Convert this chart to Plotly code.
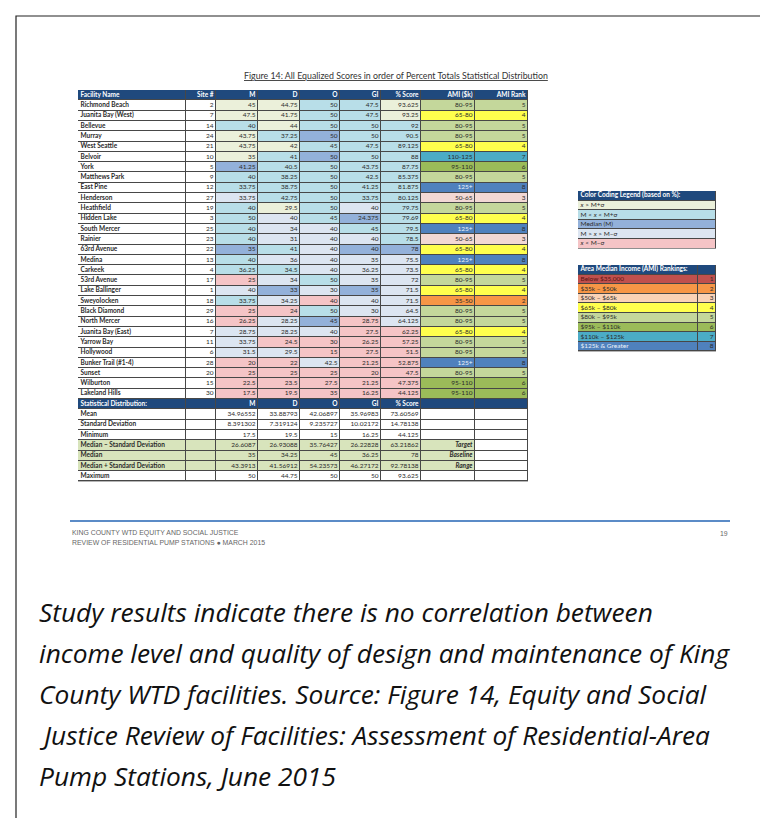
import plotly.graph_objects as go

# ---------------- DATA ----------------
facility = ["Richmond Beach", "Juanita Bay (West)", "Bellevue", "Murray", "West Seattle", "Belvoir",
            "York", "Matthews Park", "East Pine", "Henderson", "Heathfield", "Hidden Lake",
            "South Mercer", "Rainier", "63rd Avenue", "Medina", "Carkeek", "53rd Avenue",
            "Lake Ballinger", "Sweyolocken", "Black Diamond", "North Mercer", "Juanita Bay (East)",
            "Yarrow Bay", "Hollywood", "Bunker Trail (#1-4)", "Sunset", "Wilburton", "Lakeland Hills"]
site = [2, 7, 14, 24, 21, 10, 5, 9, 12, 27, 19, 3, 25, 23, 22, 13, 4, 17, 1, 18, 29, 16, 7, 11, 6, 28, 20, 15, 30]
m_score = [45, 47.5, 40, 43.75, 43.75, 35, 41.25, 40, 33.75, 33.75, 40, 50, 40, 40, 35, 40, 36.25, 25, 40,
           33.75, 25, 26.25, 28.75, 33.75, 31.5, 20, 25, 22.5, 17.5]
d_score = [44.75, 41.75, 44, 37.25, 42, 41, 40.5, 38.25, 38.75, 42.75, 29.5, 40, 34, 31, 41, 36, 34.5, 34, 33,
           34.25, 24, 28.25, 28.25, 24.5, 29.5, 22, 25, 23.5, 19.5]
o_score = [50, 50, 50, 50, 45, 50, 50, 50, 50, 50, 50, 45, 40, 40, 40, 40, 40, 50, 30, 40, 50, 45, 40, 30, 15,
           42.5, 25, 27.5, 35]
gi_score = [47.5, 47.5, 50, 50, 47.5, 50, 43.75, 42.5, 41.25, 33.75, 40, 24.375, 45, 40, 40, 35, 36.25, 35, 35,
            40, 30, 28.75, 27.5, 26.25, 27.5, 21.25, 20, 21.25, 16.25]
pct_score = [93.625, 93.25, 92, 90.5, 89.125, 88, 87.75, 85.375, 81.875, 80.125, 79.75, 79.69, 79.5, 78.5, 78,
             75.5, 73.5, 72, 71.5, 71.5, 64.5, 64.125, 62.25, 57.25, 51.5, 52.875, 47.5, 47.375, 44.125]
ami_range = ["80-95", "65-80", "80-95", "80-95", "65-80", "110-125", "95-110", "80-95", "125+", "50-65",
             "80-95", "65-80", "125+", "50-65", "65-80", "125+", "65-80", "80-95", "65-80", "35-50",
             "80-95", "80-95", "65-80", "80-95", "80-95", "125+", "80-95", "95-110", "95-110"]
ami_rank = [5, 4, 5, 5, 4, 7, 6, 5, 8, 3, 5, 4, 8, 3, 4, 8, 4, 5, 4, 2, 5, 5, 4, 5, 5, 8, 5, 6, 6]

column_names = ["Facility Name", "Site #", "M", "D", "O", "GI", "% Score", "AMI ($k)", "AMI Rank"]
stat_header = ["Statistical Distribution:", "", "M", "D", "O", "GI", "% Score", "", ""]
stat_labels = ["Mean", "Standard Deviation", "Minimum", "Median \u2013 Standard Deviation", "Median",
               "Median + Standard Deviation", "Maximum"]
stat_m = [34.96552, 8.391302, 17.5, 26.6087, 35, 43.3913, 50]
stat_d = [33.88793, 7.319124, 19.5, 26.93088, 34.25, 41.56912, 44.75]
stat_o = [42.06897, 9.235727, 15, 35.76427, 45, 54.23573, 50]
stat_gi = [35.96983, 10.02172, 16.25, 26.22828, 36.25, 46.27172, 50]
stat_pct = [73.60569, 14.78138, 44.125, 63.21862, 78, 92.78138, 93.625]
stat_note = ["", "", "", "Target", "Baseline", "Range", ""]

title_text = "Figure 14: All Equalized Scores in order of Percent Totals Statistical Distribution"
color_legend_title = "Color Coding Legend (based on %):"
color_legend_labels = ["<i>x</i> > M+\u03c3", "M < <i>x</i> < M+\u03c3", "Median (M)",
                       "M > <i>x</i> > M\u2212\u03c3", "<i>x</i> < M\u2212\u03c3"]
ami_legend_title = "Area Median Income (AMI) Rankings:"
ami_legend_labels = ["Below $35,000", "$35k \u2013 $50k", "$50k \u2013 $65k", "$65k \u2013 $80k",
                     "$80k \u2013 $95k", "$95k \u2013 $110k", "$110k \u2013 $125k", "$125k & Greater"]
ami_legend_ranks = [1, 2, 3, 4, 5, 6, 7, 8]
footer_lines = ["KING COUNTY WTD EQUITY AND SOCIAL JUSTICE",
                "REVIEW OF RESIDENTIAL PUMP STATIONS \u25cf MARCH 2015"]
page_number = "19"
caption_lines = ["Study results indicate there is no correlation between",
                 "income level and quality of design and maintenance of King",
                 "County WTD facilities. Source: Figure 14, Equity and Social",
                 "Justice Review of Facilities: Assessment of Residential-Area",
                 "Pump Stations, June 2015"]

# ---------------- STYLE ----------------
W, H = 768, 818
def fx(x): return x / W
def fy(y): return 1 - y / H

SHADE = {'C': '#EBF0DA', 'L': '#B8DEE8', 'B': '#93B1DA', 'V': '#DCE5F1', 'P': '#F5C4C6'}
# per-cell shading as it appears in the figure (one string per score column)
shade_cols = [
    "CCLCCCBLLVLLLLBLLPVLPPVVVPPPP",  # M
    "CCCLCLLLLLCVVVLVLVBVPVVPVPPPP",  # D
    "LLLBLBLLLLLLVVVVVLVPLBVPPVPPP",  # O
    "LLLLLLLLLLVBLVBVVVBVVPPPPPPPP",  # GI
    "CCLLLLLLLLLLLLBVVVVVVVPPPPPPP",  # % Score
]
AMI_FILL = {1: '#C0504D', 2: '#F79646', 3: '#F2D8D4', 4: '#FFFF4D', 5: '#C4D79B', 6: '#9BBB59',
            7: '#4BACC6', 8: '#4F81BD'}
AMI_LEG_FILL = {1: '#C0504D', 2: '#F79646', 3: '#FAD2B6', 4: '#FFFF4D', 5: '#C4D79B', 6: '#9BBB59',
                7: '#4BACC6', 8: '#4F81BD'}
AMI_TXT = {1: '#5a1414', 8: '#EEF3FA'}
HDR = '#1F497D'
GREEN = '#D8E4BC'
TXT = '#2b2b2b'
GRID = '#474747'
FONT = 'Lato'
FS = 6.5


def fmt(v):
    return f"{v:.7g}"


def cum(ws):
    out = [0]
    for w in ws:
        out.append(out[-1] + w)
    return out


n = len(facility)
ns = len(stat_labels)

# ---- main table: cell text and fills, row by row ----
col_w = [108, 30, 42, 42, 40, 41, 40, 54, 53]
x_edges = cum(col_w)
aligns = ['left'] + ['right'] * 8
rows_text, rows_fill, rows_color = [], [], []
rows_text.append([f"<b>{c}</b>" for c in column_names])
rows_fill.append([HDR] * 9)
rows_color.append(['white'] * 9)
score_lists = [m_score, d_score, o_score, gi_score, pct_score]
for i in range(n):
    rows_text.append([f"<b>{facility[i]}</b>", str(site[i])] + [fmt(s[i]) for s in score_lists]
                     + [ami_range[i], str(ami_rank[i])])
    rows_fill.append(['white', 'white'] + [SHADE[shade_cols[k][i]] for k in range(5)]
                     + [AMI_FILL[ami_rank[i]]] * 2)
    rows_color.append([TXT] * 7 + [AMI_TXT.get(ami_rank[i], TXT), TXT])
rows_text.append([f"<b>{h}</b>" if h else "" for h in stat_header])
rows_fill.append([HDR] * 9)
rows_color.append(['white'] * 9)
stat_lists = [stat_m, stat_d, stat_o, stat_gi, stat_pct]
stat_fill = ['white', 'white', 'white', GREEN, GREEN, GREEN, 'white']
for j in range(ns):
    note = f"<b><i>{stat_note[j]}</i></b>" if stat_note[j] else ""
    rows_text.append([f"<b>{stat_labels[j]}</b>", ""] + [fmt(s[j]) for s in stat_lists] + [note, ""])
    rows_fill.append([stat_fill[j]] * 8 + ['white'])
    rows_color.append([TXT] * 9)
nrows = len(rows_text)

palette = []
for r in rows_fill:
    for c in r:
        if c not in palette:
            palette.append(c)
leg_fills = [HDR] + [SHADE[k] for k in "CLBVP"]
ami_leg = [AMI_LEG_FILL[r] for r in ami_legend_ranks]
for c in leg_fills + ami_leg:
    if c not in palette:
        palette.append(c)
NP = len(palette)
cscale = []
for i, c in enumerate(palette):
    cscale.append([i / NP, c])
    cscale.append([(i + 1) / NP, c])


def heat(fill_rows, xe, axis_id):
    z = [[palette.index(c) for c in r] for r in fill_rows]
    return go.Heatmap(z=z, x=xe, y=list(range(len(fill_rows) + 1)), colorscale=cscale,
                      zmin=-0.5, zmax=NP - 0.5, showscale=False, xgap=1, ygap=1,
                      hoverinfo='skip', xaxis='x' + axis_id, yaxis='y' + axis_id)


def text_trace(text_rows, color_rows, xe, al, axis_id, pad=2.5, size=FS):
    xs, ys, ts, cs, ps = [], [], [], [], []
    for ri, r in enumerate(text_rows):
        for ci, t in enumerate(r):
            if not t:
                continue
            a = al[ci]
            if a == 'left':
                xs.append(xe[ci] + pad)
                ps.append('middle right')
            else:
                xs.append(xe[ci + 1] - pad)
                ps.append('middle left')
            ys.append(ri + 0.5)
            ts.append(t)
            cs.append(color_rows[ri][ci])
    return go.Scatter(x=xs, y=ys, text=ts, mode='text', textposition=ps,
                      textfont=dict(family=FONT, size=size, color=cs), marker=dict(size=1),
                      hoverinfo='skip', xaxis='x' + axis_id, yaxis='y' + axis_id)


traces = [heat(rows_fill, x_edges, ''), text_trace(rows_text, rows_color, x_edges, aligns, '')]

# ---- color coding legend ----
leg_rows_text = [[f"<b>{color_legend_title}</b>"]] + [[t] for t in color_legend_labels]
leg_rows_fill = [[c] for c in leg_fills]
leg_rows_color = [['white']] + [[TXT]] * 5
leg_x = [0, 138]
traces += [heat(leg_rows_fill, leg_x, '2'),
           text_trace(leg_rows_text, leg_rows_color, leg_x, ['left'], '2')]

# ---- AMI legend ----
ami_x = [0, 120, 138]
ami_rows_text = [[f"<b>{ami_legend_title}</b>", ""]] + \
                [[ami_legend_labels[i], str(ami_legend_ranks[i])] for i in range(len(ami_legend_labels))]
ami_rows_fill = [[HDR, HDR]] + [[c, c] for c in ami_leg]
ami_rows_color = [['white', 'white']] + [[AMI_TXT.get(r, TXT), TXT] for r in ami_legend_ranks]
traces += [heat(ami_rows_fill, ami_x, '3'),
           text_trace(ami_rows_text, ami_rows_color, ami_x, ['left', 'right'], '3')]
fig = go.Figure(traces)

ROW = 10.3
top = 82
bottom = top + ROW * nrows
LROW = 9.6


def ax(dom, rng):
    return dict(domain=dom, range=rng, showgrid=False, zeroline=False, showticklabels=False,
                showline=False, ticks='', fixedrange=True)


fig.update_layout(
    xaxis=ax([fx(70), fx(520)], [0, x_edges[-1]]),
    yaxis=ax([fy(bottom), fy(top)], [nrows, 0]),
    xaxis2=ax([fx(570), fx(708)], [0, 138]),
    yaxis2=ax([fy(183 + LROW * 6), fy(183)], [6, 0]),
    xaxis3=ax([fx(570), fx(708)], [0, 138]),
    yaxis3=ax([fy(257 + LROW * 9), fy(257)], [9, 0]),
)
fig.layout.xaxis2.anchor = 'y2'
fig.layout.xaxis3.anchor = 'y3'
fig.layout.yaxis2.anchor = 'x2'
fig.layout.yaxis3.anchor = 'x3'

FOOT = dict(family='Liberation Sans', size=6.9, color='#666')
annotations = [
    dict(text=f"<u>{title_text}</u>", x=fx(388), y=fy(67), xref='paper', yref='paper',
         showarrow=False, xanchor='center', yanchor='middle',
         font=dict(family=FONT, size=8.8, color='#333')),
    dict(text=footer_lines[0], x=fx(62), y=fy(525), xref='paper', yref='paper', showarrow=False,
         xanchor='left', yanchor='middle', font=FOOT),
    dict(text=footer_lines[1], x=fx(62), y=fy(534), xref='paper', yref='paper', showarrow=False,
         xanchor='left', yanchor='middle', font=FOOT),
    dict(text=page_number, x=fx(722), y=fy(525), xref='paper', yref='paper', showarrow=False,
         xanchor='right', yanchor='middle', font=FOOT),
]
cap_y = [604, 645, 686, 727, 768]
for line, y in zip(caption_lines, cap_y):
    annotations.append(dict(text=f"<i>{line}</i>", x=fx(29), y=fy(y), xref='paper', yref='paper',
                            showarrow=False, xanchor='left', yanchor='middle',
                            font=dict(family='Open Sans', size=26.3, color='#111')))

shapes = [
    dict(type='line', xref='paper', yref='paper', x0=fx(62), x1=fx(722), y0=fy(513), y1=fy(513),
         line=dict(color='#5B8BC7', width=2)),
    dict(type='rect', xref='paper', yref='paper', x0=fx(8), x1=fx(766), y0=fy(816.5), y1=fy(8),
         line=dict(color='#222', width=1.2)),
]

fig.update_layout(width=W, height=H, margin=dict(l=0, r=0, t=0, b=0),
                  paper_bgcolor='white', plot_bgcolor=GRID,
                  annotations=annotations, shapes=shapes, showlegend=False)
fig.write_html("out.html")
